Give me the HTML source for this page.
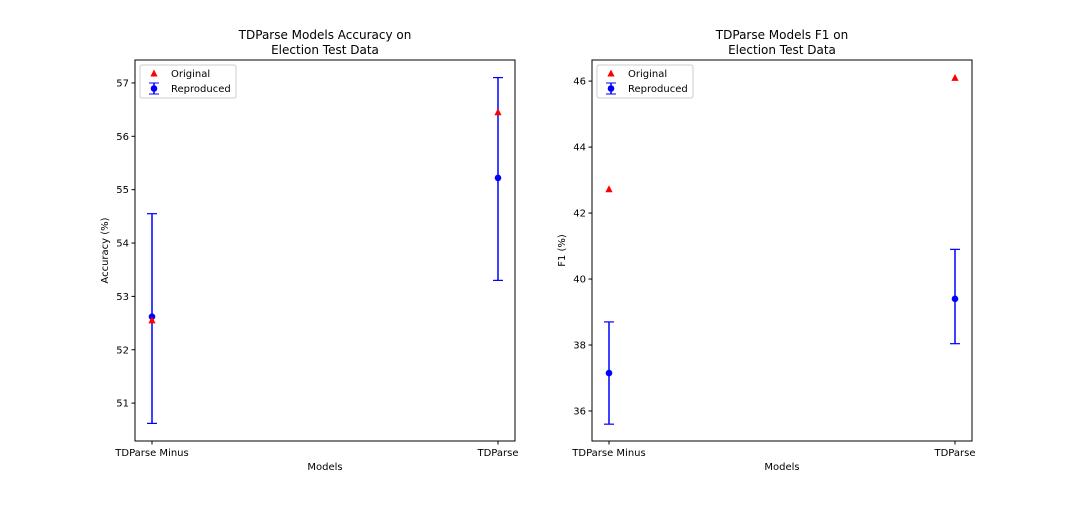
<!DOCTYPE html>
<html><head><meta charset="utf-8"><style>
body{margin:0;background:#fff;font-family:"DejaVu Sans","Liberation Sans",sans-serif;}
svg text{font-family:"DejaVu Sans","Liberation Sans",sans-serif;fill:#000;}
</style></head><body>
<svg id="c" width="1080" height="504" viewBox="0 0 1080 504" xmlns="http://www.w3.org/2000/svg"></svg>
<script>
const categories = ["TDParse Minus", "TDParse"];
const accOriginal = [52.55, 56.45];
const accReproduced = [52.62, 55.22];
const accErrLow = [50.62, 53.3];
const accErrHigh = [54.55, 57.1];
const accTicks = [51, 52, 53, 54, 55, 56, 57];
const f1Original = [42.72, 46.1];
const f1Reproduced = [37.15, 39.4];
const f1ErrLow = [35.6, 38.04];
const f1ErrHigh = [38.7, 40.9];
const f1Ticks = [36, 38, 40, 42, 44, 46];

const NS = "http://www.w3.org/2000/svg";
const svg = document.getElementById('c');
function mk(tag, attrs, parent, name) {
  const e = document.createElementNS(NS, tag);
  for (const k in attrs) e.setAttribute(k, attrs[k]);
  
  
  (parent || svg).appendChild(e);
  return e;
}
function panel(p) {
  const g = mk('g', {}, svg, p.id);
  const L = p.x0, R = p.x0 + 380, T = 60, B = 441;
  const ys = v => B - (v - p.ymin) / (p.ymax - p.ymin) * (B - T);
  const xs = i => L + 17 + i * 346;
  mk('rect', {x: L, y: T, width: 380, height: B - T, fill: 'none', stroke: '#000', 'stroke-width': 1}, g, 'plot-frame');
  p.ticks.forEach(t => {
    const y = ys(t);
    mk('line', {x1: L - 3.5, x2: L, y1: y, y2: y, stroke: '#000'}, g, 'y-tick');
    const tx = mk('text', {x: L - 6, y: y + 3.5, 'font-size': 10, 'text-anchor': 'end'}, g, 'y-tick-label');
    tx.textContent = t;
  });
  categories.forEach((c, i) => {
    const x = xs(i);
    mk('line', {x1: x, x2: x, y1: B, y2: B + 3.5, stroke: '#000'}, g, 'x-tick');
    const tx = mk('text', {x: x, y: B + 15, 'font-size': 10, 'text-anchor': 'middle'}, g, 'x-tick-label');
    tx.textContent = c;
  });
  const xl = mk('text', {x: L + 190, y: 470, 'font-size': 10, 'text-anchor': 'middle'}, g, 'x-axis-title'); xl.textContent = 'Models';
  const yl = mk('text', {x: 0, y: 0, 'font-size': 10, 'text-anchor': 'middle', transform: `translate(${L - 27},${(T + B) / 2}) rotate(-90)`}, g, 'y-axis-title'); yl.textContent = p.ylabel;
  const t1 = mk('text', {x: L + 190, y: 39, 'font-size': 12, 'text-anchor': 'middle'}, g, 'chart-title-line1'); t1.textContent = p.title;
  const t2 = mk('text', {x: L + 190, y: 54, 'font-size': 12, 'text-anchor': 'middle'}, g, 'chart-title-line2'); t2.textContent = 'Election Test Data';
  categories.forEach((c, i) => {
    const x = xs(i);
    const y1 = ys(p.lo[i]), y2 = ys(p.hi[i]);
    mk('line', {x1: x, x2: x, y1: y1, y2: y2, stroke: '#0000ff', 'stroke-width': 1.5}, g, 'error-bar');
    mk('line', {x1: x - 5, x2: x + 5, y1: y1, y2: y1, stroke: '#0000ff', 'stroke-width': 1.2}, g, 'error-cap-low');
    mk('line', {x1: x - 5, x2: x + 5, y1: y2, y2: y2, stroke: '#0000ff', 'stroke-width': 1.2}, g, 'error-cap-high');
    mk('circle', {cx: x, cy: ys(p.rep[i]), r: 3.3, fill: '#0000ff'}, g, 'reproduced-point');
    const oy = ys(p.orig[i]);
    mk('polygon', {points: `${x},${oy - 4} ${x - 3.6},${oy + 3} ${x + 3.6},${oy + 3}`, fill: '#ff0000'}, g, 'original-point');
  });
  const lg = mk('g', {}, g, 'legend');
  mk('rect', {x: L + 5, y: 65, width: 96, height: 33, rx: 2, fill: '#fff', stroke: '#ccc'}, lg, 'legend-box');
  const lx = L + 19;
  mk('polygon', {points: `${lx},${69.5} ${lx - 3.6},${76.5} ${lx + 3.6},${76.5}`, fill: '#ff0000'}, lg, 'legend-original-marker');
  const a = mk('text', {x: L + 36, y: 77, 'font-size': 10}, lg, 'legend-original-label'); a.textContent = 'Original';
  mk('line', {x1: lx, x2: lx, y1: 83, y2: 94, stroke: '#0000ff', 'stroke-width': 1.5}, lg, 'legend-reproduced-bar');
  mk('line', {x1: lx - 5, x2: lx + 5, y1: 83, y2: 83, stroke: '#0000ff'}, lg, 'legend-cap');
  mk('line', {x1: lx - 5, x2: lx + 5, y1: 94, y2: 94, stroke: '#0000ff'}, lg, 'legend-cap');
  mk('circle', {cx: lx, cy: 88.5, r: 3.3, fill: '#0000ff'}, lg, 'legend-reproduced-marker');
  const b = mk('text', {x: L + 36, y: 92, 'font-size': 10}, lg, 'legend-reproduced-label'); b.textContent = 'Reproduced';
}
panel({id: 'accuracy-panel', x0: 135, ymin: 50.29, ymax: 57.43, ticks: accTicks, orig: accOriginal, rep: accReproduced, lo: accErrLow, hi: accErrHigh, ylabel: 'Accuracy (%)', title: 'TDParse Models Accuracy on'});
panel({id: 'f1-panel', x0: 592, ymin: 35.09, ymax: 46.64, ticks: f1Ticks, orig: f1Original, rep: f1Reproduced, lo: f1ErrLow, hi: f1ErrHigh, ylabel: 'F1 (%)', title: 'TDParse Models F1 on'});
</script>
</body></html>
